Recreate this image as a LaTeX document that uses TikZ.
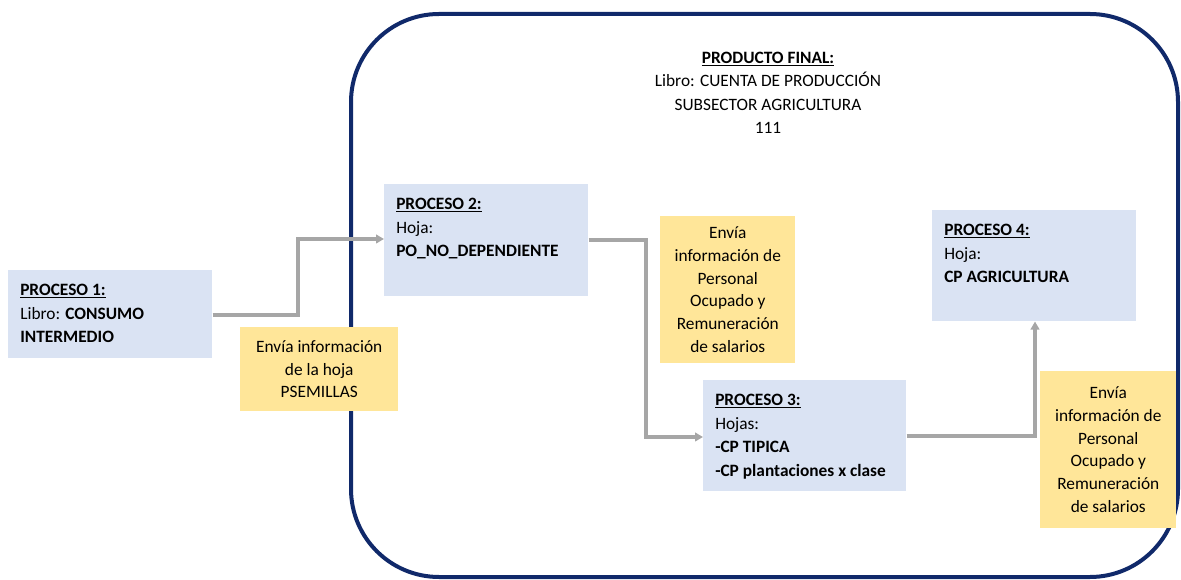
\documentclass[tikz,border=0pt]{standalone}
\usepackage{fontspec}
\setmainfont{Carlito}
\usetikzlibrary{arrows.meta}
\definecolor{boxblue}{HTML}{DAE3F3}
\definecolor{boxyellow}{HTML}{FFE699}
\definecolor{navy}{HTML}{10296A}
\definecolor{linegray}{HTML}{A6A6A6}
\tikzset{
  procbox/.style={fill=boxblue, draw=none, anchor=north west, inner sep=0pt, font=\fontsize{13}{17.6}\selectfont},
  notebox/.style={fill=boxyellow, draw=none, anchor=north west, inner sep=0pt, align=center, font=\fontsize{13}{17}\selectfont},
  conn/.style={draw=linegray, line width=2.6pt, -{Triangle[length=6pt,width=6.5pt]}},
  frame/.style={draw=navy, line width=3pt, rounded corners=66pt}
}
\newcommand{\pbox}[3]{\begin{minipage}[t][#2][t]{#1}\vspace{0pt}\setlength{\parindent}{0pt}\hspace*{9pt}\parbox[t]{\dimexpr#1-12pt}{\vspace{10.5pt}#3}\end{minipage}}
\newcommand{\nbox}[3]{\begin{minipage}[c][#2][c]{#1}\centering #3\end{minipage}}
\begin{document}
\begin{tikzpicture}[x=0.75pt,y=-0.75pt]
\useasboundingbox (0,0) rectangle (1181,580);
\clip (0,0) rectangle (1181,580);
\draw[frame] (351,14) rectangle (1178,577);

\node[align=center, font=\fontsize{13}{17.6}\selectfont, anchor=north] (pf) at (768,47)
  {\textbf{\underline{PRODUCTO FINAL:}}\\ Libro: CUENTA DE PRODUCCIÓN\\ SUBSECTOR AGRICULTURA\\ 111};

\node[procbox] (p1) at (8,270) {\pbox{153pt}{66pt}{\textbf{\underline{PROCESO 1:}}\\ Libro: \textbf{CONSUMO}\\ \textbf{INTERMEDIO}}};
\node[procbox] (p2) at (384,184) {\pbox{153pt}{84pt}{\textbf{\underline{PROCESO 2:}}\\ Hoja:\\ \textbf{PO\_NO\_DEPENDIENTE}}};
\node[procbox] (p3) at (703,380) {\pbox{152.25pt}{83.25pt}{\textbf{\underline{PROCESO 3:}}\\ Hojas:\\ \textbf{-CP TIPICA}\\ \textbf{-CP plantaciones x clase}}};
\node[procbox] (p4) at (932,210) {\pbox{153pt}{83.25pt}{\textbf{\underline{PROCESO 4:}}\\ Hoja:\\ \textbf{CP AGRICULTURA}}};

\node[notebox] (n1) at (240,327) {\nbox{118.5pt}{63pt}{Envía información\\ de la hoja\\ PSEMILLAS}};
\node[notebox] (n2) at (660,216) {\nbox{101.25pt}{110.25pt}{Envía\\ información de\\ Personal\\ Ocupado y\\ Remuneración\\ de salarios}};
\node[notebox] (n3) at (1040,371) {\nbox{102pt}{117.75pt}{Envía\\ información de\\ Personal\\ Ocupado y\\ Remuneración\\ de salarios}};

\coordinate (a1) at (298,315);
\coordinate (a2) at (646,240);
\coordinate (a3) at (1035,436);
\draw[conn] (p1.east |- a1) -- (a1) -- (a1 |- 0,239) -- (p2.west |- 0,239);
\draw[conn] (p2.east |- a2) -- (a2) -- (a2 |- 0,437) -- (p3.west |- 0,437);
\draw[conn] (p3.east |- a3) -- (a3) -- (a3 |- p4.south);
\end{tikzpicture}
\end{document}
